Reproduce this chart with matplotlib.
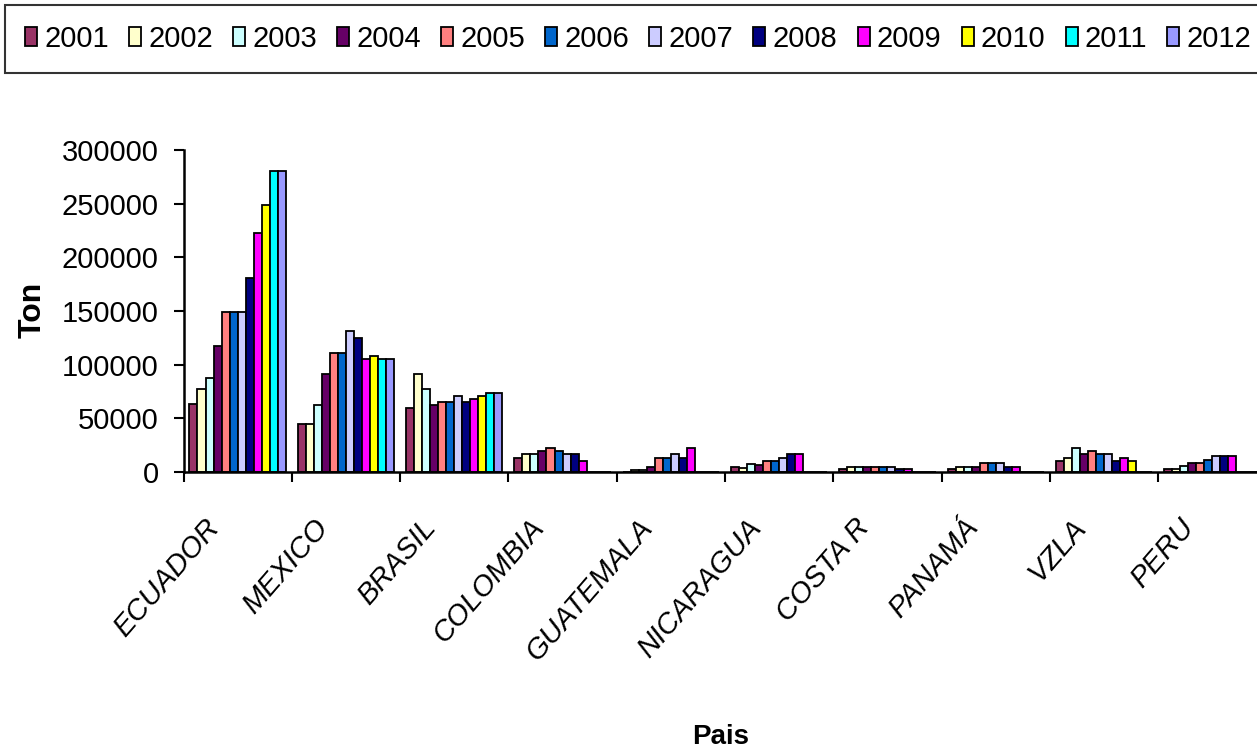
import numpy as np
import matplotlib
matplotlib.use("Agg")
import matplotlib.pyplot as plt
from matplotlib.transforms import ScaledTranslation

paises = ["ECUADOR", "MEXICO", "BRASIL", "COLOMBIA", "GUATEMALA",
          "NICARAGUA", "COSTA R", "PANAMÁ", "VZLA", "PERU"]
anios = ["2001", "2002", "2003", "2004", "2005", "2006",
         "2007", "2008", "2009", "2010", "2011", "2012"]
colores = ["#993366", "#FFFFCC", "#CCFFFF", "#660066", "#FF8080", "#0066CC",
           "#CCCCFF", "#000080", "#FF00FF", "#FFFF00", "#00FFFF", "#9999FF"]

# toneladas por pais, 2001..2012
ecuador = [63000, 77000, 88000, 117000, 149000, 149000, 149000, 181000, 223000, 249000, 280000, 280000]
mexico = [45000, 45000, 62000, 91000, 111000, 111000, 131000, 125000, 105000, 108000, 105000, 105000]
brasil = [60000, 91000, 77000, 62000, 65000, 65000, 71000, 65000, 68000, 71000, 74000, 74000]
colombia = [13400, 16500, 16500, 19600, 22400, 19600, 16500, 16500, 10600, 0, 0, 0]
guatemala = [0, 2000, 2000, 4700, 13400, 13400, 16500, 13400, 22000, 0, 0, 0]
nicaragua = [5000, 3500, 7500, 6500, 10000, 10000, 13500, 17000, 17000, 0, 0, 0]
costa_r = [2500, 5000, 5000, 5000, 5000, 5000, 5000, 2500, 2500, 0, 0, 0]
panama = [2500, 5000, 5000, 5000, 8400, 8400, 8400, 5000, 5000, 0, 0, 0]
vzla = [10700, 13500, 22500, 16600, 19700, 17000, 17000, 10700, 13500, 10700, 0, 0]
peru = [2500, 2500, 5300, 8400, 8400, 11500, 14600, 14600, 14600, 0, 0, 0]

datos = [ecuador, mexico, brasil, colombia, guatemala,
         nicaragua, costa_r, panama, vzla, peru]

plt.rcParams['font.family'] = ['Liberation Sans', 'DejaVu Sans']

fig = plt.figure(figsize=(12.57, 7.52), dpi=100)
ax = fig.add_axes([183.5 / 1257, 1 - 472 / 752, 1083 / 1257, 322 / 752])

n = len(anios)
grupo = 0.89
w = grupo / n
x = np.arange(len(paises)) + 0.5
for j, (a, c) in enumerate(zip(anios, colores)):
	vals = [d[j] for d in datos]
	ax.bar(x - grupo / 2 + w * (j + 0.5), vals, w, color=c,
	       edgecolor="black", linewidth=1.3, label=a)

ax.set_xlim(0, len(paises))
ax.set_ylim(0, 300000)
ax.set_xticks(np.arange(0, len(paises) + 1))
ax.set_xticklabels([])
ax.set_yticks(range(0, 300001, 50000))
ax.tick_params(axis="y", labelsize=21, length=7, width=1.5, pad=11)
ax.tick_params(axis="x", length=7, width=1.5)
for s in ("top", "right"):
	ax.spines[s].set_visible(False)
for s in ("left", "bottom"):
	ax.spines[s].set_linewidth(1.8)

off = ScaledTranslation(-23 / 100, -51 / 100, fig.dpi_scale_trans)
for xi, p in zip(x, paises):
	ax.text(xi, 0, p, transform=ax.get_xaxis_transform() + off,
	        rotation=49, rotation_mode="anchor", ha="right", va="center",
	        fontsize=21, style="italic")

fig.text(33 / 1257, 1 - 310 / 752, "Ton", rotation=90, ha="center",
         va="center", fontsize=23, weight="bold")
fig.text(721 / 1257, 1 - 737 / 752, "Pais", ha="center", va="center",
         fontsize=20, weight="bold")

leg = fig.legend(loc="upper left", bbox_to_anchor=(5 / 1257, 1 - 5 / 752),
                 bbox_transform=fig.transFigure, ncol=n, fontsize=21,
                 handlelength=0.41, handleheight=0.6, handletextpad=0.25,
                 columnspacing=0.69, borderpad=0.68, borderaxespad=0,
                 fancybox=False, frameon=True)
leg.get_frame().set_edgecolor("black")
leg.get_frame().set_linewidth(1.5)

fig.savefig("out.png", dpi=100)
